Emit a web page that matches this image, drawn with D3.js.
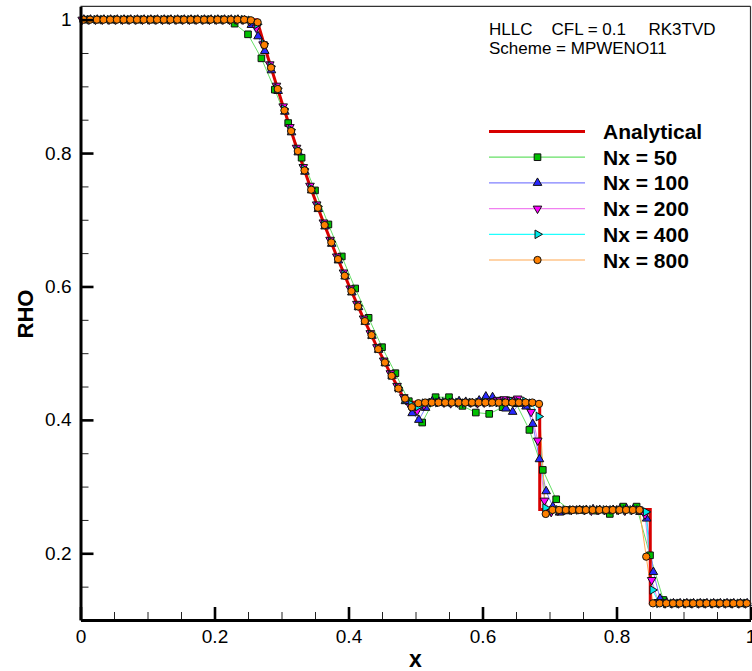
<!DOCTYPE html>
<html>
<head>
<meta charset="utf-8">
<script src="https://cdn.jsdelivr.net/npm/d3@7"></script>
<style>
  html, body { margin: 0; padding: 0; background: #fff; }
  svg { display: block; font-family: "Liberation Sans", Arial, Helvetica, sans-serif; }
</style>
</head>
<body>
<svg id="chart" width="752" height="671"></svg>
<script>
// ---------------- DATA ----------------
const xTicks = [0, 0.2, 0.4, 0.6, 0.8, 1];
const xMinor = [0.05, 0.1, 0.15, 0.25, 0.3, 0.35, 0.45, 0.5, 0.55, 0.65, 0.7, 0.75, 0.85, 0.9, 0.95];
const yTicks = [0.2, 0.4, 0.6, 0.8, 1];
const yMinor = [0.15, 0.25, 0.3, 0.35, 0.45, 0.5, 0.55, 0.65, 0.7, 0.75, 0.85, 0.9, 0.95];

const analyticalX = [0, 0.2633, 0.28, 0.30, 0.32, 0.34, 0.36, 0.38, 0.40, 0.42, 0.44, 0.46, 0.48, 0.4859, 0.6854, 0.6854, 0.8504, 0.8504, 1];
const analyticalRho = [1, 1, 0.9426, 0.8776, 0.8158, 0.7577, 0.7029, 0.6514, 0.603, 0.5574, 0.5146, 0.4745, 0.4370, 0.4263, 0.4263, 0.2656, 0.2656, 0.125, 0.125];

// Nx = 50 (every cell)
const nx50Rho = [1, 1, 1, 1, 1, 1, 1, 1, 1, 1, 1,
  0.994, 0.978, 0.942, 0.895, 0.845, 0.793, 0.744, 0.693, 0.645, 0.597, 0.553, 0.509, 0.470, 0.428,
  0.396, 0.434, 0.434, 0.421, 0.411, 0.409, 0.419, 0.425, 0.385, 0.325, 0.281, 0.265, 0.265, 0.264,
  0.259, 0.270, 0.270, 0.197, 0.130,
  0.125, 0.125, 0.125, 0.125, 0.125, 0.125];

// Nx = 100 (every cell)
const nx100Rho = [1, 1, 1, 1, 1, 1, 1, 1, 1, 1, 1, 1, 1, 1, 1, 1, 1, 1, 1, 1, 1, 1, 1, 1, 0.999,
  0.992, 0.975, 0.953, 0.924, 0.893, 0.862, 0.831, 0.801, 0.772, 0.744, 0.716, 0.690, 0.664, 0.639,
  0.615, 0.591, 0.569, 0.547, 0.526, 0.505, 0.485, 0.466, 0.447, 0.428, 0.410, 0.400, 0.418, 0.428,
  0.427, 0.425, 0.426, 0.428, 0.427, 0.425, 0.429, 0.435, 0.434, 0.427, 0.417, 0.412, 0.424, 0.420,
  0.394, 0.341, 0.293, 0.270, 0.261,
  0.263, 0.264, 0.265, 0.265, 0.266, 0.265, 0.264, 0.265, 0.266, 0.267, 0.266,
  0.262, 0.252, 0.172, 0.132, 0.126,
  0.125, 0.125, 0.125, 0.125, 0.125, 0.125, 0.125, 0.125, 0.125, 0.125, 0.125, 0.125];

// Nx = 200 (markers on every 2nd cell)
const nx200Rho = [1, 1, 1, 1, 1, 1, 1, 1, 1, 1, 1, 1, 1, 1, 1, 1, 1, 1, 1, 1, 1, 1, 1, 1, 1,
  0.998, 0.988, 0.963, 0.933, 0.901, 0.870, 0.839, 0.808, 0.779, 0.751, 0.723, 0.696, 0.670, 0.645,
  0.621, 0.597, 0.574, 0.552, 0.530, 0.509, 0.489, 0.470, 0.451, 0.434, 0.420, 0.414, 0.422, 0.427,
  0.427, 0.426, 0.425, 0.426, 0.427, 0.426, 0.425, 0.426, 0.428, 0.430, 0.431,
  0.430, 0.432, 0.426, 0.412, 0.369, 0.279, 0.262, 0.264,
  0.265, 0.265, 0.266, 0.265, 0.264, 0.265, 0.265, 0.266, 0.265, 0.264, 0.265,
  0.266, 0.258, 0.160, 0.127,
  0.125, 0.125, 0.125, 0.125, 0.125, 0.125, 0.125, 0.125, 0.125, 0.125, 0.125, 0.125, 0.125];

// Nx = 400 (markers on every 4th cell)
const nx400Rho = [1, 1, 1, 1, 1, 1, 1, 1, 1, 1, 1, 1, 1, 1, 1, 1, 1, 1, 1, 1, 1, 1, 1, 1, 1,
  0.999, 0.993, 0.964, 0.930,
  0.897, 0.866, 0.835, 0.805, 0.776, 0.747, 0.720, 0.693, 0.667, 0.642,
  0.618, 0.594, 0.571, 0.549, 0.528, 0.507, 0.487, 0.467, 0.448, 0.431,
  0.423, 0.420, 0.425,
  0.426, 0.426, 0.427, 0.426, 0.426, 0.425, 0.426, 0.426, 0.427, 0.426, 0.426, 0.427, 0.428, 0.427,
  0.428, 0.425, 0.405, 0.268, 0.264,
  0.265, 0.265, 0.265, 0.265, 0.265, 0.265, 0.265, 0.265, 0.265, 0.265, 0.265, 0.265, 0.265,
  0.262, 0.145,
  0.125, 0.125, 0.125, 0.125, 0.125, 0.125, 0.125, 0.125, 0.125, 0.125, 0.125, 0.125, 0.125, 0.125];

// Nx = 800 (markers on every 8th cell)
const nx800Rho = [1, 1, 1, 1, 1, 1, 1, 1, 1, 1, 1, 1, 1, 1, 1, 1, 1, 1, 1, 1, 1, 1, 1, 1, 1,
  0.999, 0.996, 0.962, 0.928, 0.896, 0.864, 0.833, 0.803, 0.774, 0.745, 0.718, 0.692, 0.666, 0.641,
  0.616, 0.593, 0.570, 0.548, 0.527, 0.506, 0.486, 0.466, 0.447, 0.432, 0.419, 0.425,
  0.426, 0.426, 0.426, 0.426, 0.426, 0.426, 0.426, 0.426, 0.426, 0.426, 0.426, 0.426, 0.426, 0.426, 0.426, 0.426, 0.426,
  0.424, 0.259,
  0.265, 0.265, 0.265, 0.265, 0.265, 0.265, 0.265, 0.265, 0.265, 0.265, 0.265, 0.265, 0.265, 0.265,
  0.195,
  0.125, 0.125, 0.125, 0.125, 0.125, 0.125, 0.125, 0.125, 0.125, 0.125, 0.125, 0.125, 0.125, 0.125, 0.125];

const seriesNames = ["Nx = 50", "Nx = 100", "Nx = 200", "Nx = 400", "Nx = 800"];
const headerLine1 = ["HLLC", "CFL = 0.1", "RK3TVD"];
const headerLine2 = "Scheme = MPWENO11";

// cell-centre grids of the plotted points
const grid = (N, skip, off) => d3.range(N / skip).map(k => (skip * k + off) / N);
const series = [
  { name: seriesNames[0], x: grid(50, 1, 0.5),  rho: nx50Rho,  fill: "#00c000", line: "#66e066", sym: d3.symbolSquare,   size: 44, rot: 0 },
  { name: seriesNames[1], x: grid(100, 1, 0.5), rho: nx100Rho, fill: "#2828ff", line: "#8080ff", sym: d3.symbolTriangle, size: 32, rot: 0 },
  { name: seriesNames[2], x: grid(200, 2, 0.5), rho: nx200Rho, fill: "#ff00ff", line: "#f080f0", sym: d3.symbolTriangle, size: 32, rot: 180 },
  { name: seriesNames[3], x: grid(400, 4, 1.5), rho: nx400Rho, fill: "#00e8e8", line: "#20ffff", sym: d3.symbolTriangle, size: 32, rot: 90 },
  { name: seriesNames[4], x: grid(800, 8, 3.5), rho: nx800Rho, fill: "#ff8000", line: "#ffa850", sym: d3.symbolCircle,   size: 42, rot: 0 }
];

// ---------------- CHART ----------------
const svg = d3.select("#chart");
const x = d3.scaleLinear().domain([0, 1]).range([80.5, 750.5]);
const y = d3.scaleLinear().domain([0.1, 1.02]).range([620, 6.3]);

const lineGen = d3.line().x(d => x(d[0])).y(d => y(d[1]));

// frame top/right
svg.append("line").attr("x1", x(0)).attr("x2", x(1)).attr("y1", y(1.02)).attr("y2", y(1.02))
  .attr("stroke", "#333").attr("stroke-width", 1.2);
svg.append("line").attr("x1", x(1)).attr("x2", x(1)).attr("y1", y(1.02)).attr("y2", y(0.1))
  .attr("stroke", "#333").attr("stroke-width", 1.2);

// numerical lines
const gLines = svg.append("g");
series.forEach(s => {
  gLines.append("path")
    .datum(s.x.map((xx, i) => [xx, s.rho[i]]))
    .attr("d", lineGen)
    .attr("fill", "none")
    .attr("stroke", s.line)
    .attr("stroke-width", 1);
});

// analytical
svg.append("path")
  .datum(analyticalX.map((xx, i) => [xx, analyticalRho[i]]))
  .attr("d", lineGen)
  .attr("fill", "none")
  .attr("stroke", "#d80000")
  .attr("stroke-width", 3);

// markers
const gMarks = svg.append("g");
series.forEach(s => {
  const sym = d3.symbol().type(s.sym).size(s.size);
  gMarks.selectAll(null)
    .data(s.x.map((xx, i) => [xx, s.rho[i]]))
    .join("path")
    .attr("d", sym)
    .attr("transform", d => `translate(${x(d[0])},${y(d[1])}) rotate(${s.rot})`)
    .attr("fill", s.fill)
    .attr("stroke", "#111")
    .attr("stroke-width", 1);
});

// axes
const fmt = d3.format("~g");
const xAxis = svg.append("g").attr("transform", `translate(0,${y(0.1)})`)
  .call(d3.axisBottom(x).tickValues(xTicks).tickFormat(fmt).tickSize(-13).tickSizeOuter(0).tickPadding(10));
const xAxisMinor = svg.append("g").attr("transform", `translate(0,${y(0.1)})`)
  .call(d3.axisBottom(x).tickValues(xMinor).tickFormat("").tickSize(-8).tickSizeOuter(0));
const yAxis = svg.append("g").attr("transform", `translate(${x(0)},0)`)
  .call(d3.axisLeft(y).tickValues(yTicks).tickFormat(fmt).tickSize(-13).tickSizeOuter(0).tickPadding(9));
const yAxisMinor = svg.append("g").attr("transform", `translate(${x(0)},0)`)
  .call(d3.axisLeft(y).tickValues(yMinor).tickFormat("").tickSize(-8).tickSizeOuter(0));

[xAxis, yAxis].forEach(g => {
  g.select(".domain").attr("stroke", "#000").attr("stroke-width", 3);
  g.selectAll(".tick line").attr("stroke", "#000").attr("stroke-width", 2.6);
  g.selectAll(".tick text").attr("font-size", 19).attr("fill", "#000")
    .attr("font-family", "'Liberation Sans', Arial, sans-serif");
});
[xAxisMinor, yAxisMinor].forEach(g => {
  g.select(".domain").remove();
  g.selectAll(".tick line").attr("stroke", "#222").attr("stroke-width", 1);
});
xAxis.raise(); yAxis.raise();

// axis titles
svg.append("text").attr("x", x(0.5)).attr("y", 667).attr("text-anchor", "middle")
  .attr("font-size", 23).attr("font-weight", "bold").text("x");
svg.append("text").attr("transform", `translate(33,314) rotate(-90)`).attr("text-anchor", "middle")
  .attr("font-size", 22).attr("font-weight", "bold").text("RHO");

// header text
const hx = [489, 551.5, 648.5];
headerLine1.forEach((t, i) => {
  svg.append("text").attr("x", hx[i]).attr("y", 34.5).attr("font-size", 17).text(t);
});
svg.append("text").attr("x", 489).attr("y", 53.5).attr("font-size", 17).text(headerLine2);

// legend
const legY0 = 131.5, legDy = 25.7;
const leg = svg.append("g");
leg.append("line").attr("x1", 489).attr("x2", 585).attr("y1", legY0).attr("y2", legY0)
  .attr("stroke", "#d80000").attr("stroke-width", 3);
leg.append("text").attr("x", 603).attr("y", legY0 + 7.5).attr("font-size", 21).attr("font-weight", "bold").text("Analytical");
series.forEach((s, i) => {
  const ly = legY0 + legDy * (i + 1);
  leg.append("line").attr("x1", 489).attr("x2", 585).attr("y1", ly).attr("y2", ly)
    .attr("stroke", s.line).attr("stroke-width", 1.2);
  leg.append("path").attr("d", d3.symbol().type(s.sym).size(s.size)())
    .attr("transform", `translate(537.5,${ly}) rotate(${s.rot})`)
    .attr("fill", s.fill).attr("stroke", "#111").attr("stroke-width", 1);
  leg.append("text").attr("x", 603).attr("y", ly + 7.5).attr("font-size", 21).attr("font-weight", "bold").text(s.name);
});
</script>
</body>
</html>
